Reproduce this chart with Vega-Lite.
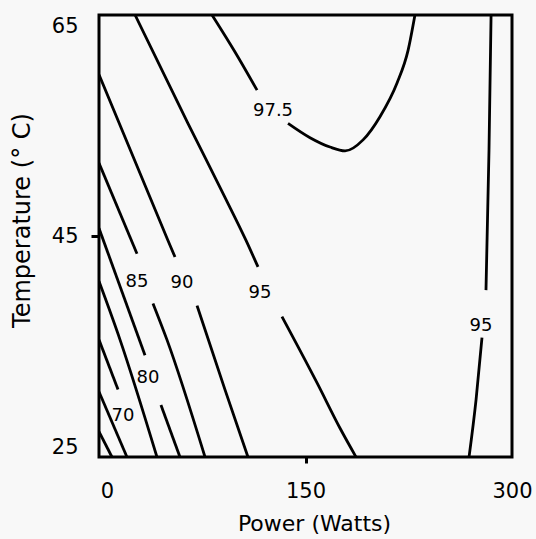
{
  "$schema": "https://vega.github.io/schema/vega-lite/v6.json",
  "width": 413,
  "height": 442,
  "autosize": {"type": "none"},
  "padding": {"left": 99, "top": 15, "right": 24, "bottom": 82},
  "background": "#f8f8f8",
  "config": {"view": {"stroke": "black", "strokeWidth": 3}, "font": "DejaVu Sans"},
  "datasets": {
    "lines": [
      {"seg": "95a", "i": 1, "x": 26.2, "y": 65},
      {"seg": "95a", "i": 2, "x": 64.6, "y": 55.2},
      {"seg": "95a", "i": 3, "x": 91.5, "y": 48.5},
      {"seg": "95a", "i": 4, "x": 106.8, "y": 44.6},
      {"seg": "95a", "i": 5, "x": 115.5, "y": 42.2},
      {"seg": "95b", "i": 1, "x": 132.9, "y": 37.7},
      {"seg": "95b", "i": 2, "x": 158.4, "y": 31.7},
      {"seg": "95b", "i": 3, "x": 175.1, "y": 27.6},
      {"seg": "95b", "i": 4, "x": 186.7, "y": 25},
      {"seg": "975a", "i": 1, "x": 82.1, "y": 65},
      {"seg": "975a", "i": 2, "x": 98.8, "y": 61.65},
      {"seg": "975a", "i": 3, "x": 114.8, "y": 58.2},
      {"seg": "975b", "i": 1, "x": 137.3, "y": 55.2},
      {"seg": "975b", "i": 2, "x": 153.3, "y": 53.9},
      {"seg": "975b", "i": 3, "x": 167.8, "y": 53.05},
      {"seg": "975b", "i": 4, "x": 178.7, "y": 52.7},
      {"seg": "975b", "i": 5, "x": 191.8, "y": 53.7},
      {"seg": "975b", "i": 6, "x": 204.1, "y": 55.8},
      {"seg": "975b", "i": 7, "x": 216.5, "y": 58.85},
      {"seg": "975b", "i": 8, "x": 224.5, "y": 61.8},
      {"seg": "975b", "i": 9, "x": 229.5, "y": 65},
      {"seg": "95ra", "i": 1, "x": 281.1, "y": 40.1},
      {"seg": "95ra", "i": 2, "x": 283.3, "y": 52.8},
      {"seg": "95ra", "i": 3, "x": 284.8, "y": 65},
      {"seg": "95rb", "i": 1, "x": 268.8, "y": 25},
      {"seg": "95rb", "i": 2, "x": 273.9, "y": 30.2},
      {"seg": "95rb", "i": 3, "x": 278.2, "y": 35.8},
      {"seg": "90a", "i": 1, "x": 0, "y": 59.6},
      {"seg": "90a", "i": 2, "x": 50.1, "y": 44.6},
      {"seg": "90a", "i": 3, "x": 55.2, "y": 43.1},
      {"seg": "90b", "i": 1, "x": 71.2, "y": 38.7},
      {"seg": "90b", "i": 2, "x": 91.5, "y": 31.1},
      {"seg": "90b", "i": 3, "x": 108.2, "y": 25},
      {"seg": "85a", "i": 1, "x": 0, "y": 51.6},
      {"seg": "85a", "i": 2, "x": 27.6, "y": 43.4},
      {"seg": "85b", "i": 1, "x": 39.2, "y": 38.9},
      {"seg": "85b", "i": 2, "x": 49.4, "y": 35.6},
      {"seg": "85b", "i": 3, "x": 77.0, "y": 25},
      {"seg": "80a", "i": 1, "x": 0, "y": 45.7},
      {"seg": "80a", "i": 2, "x": 33.4, "y": 34.2},
      {"seg": "80b", "i": 1, "x": 45.0, "y": 29.7},
      {"seg": "80b", "i": 2, "x": 58.8, "y": 25},
      {"seg": "75", "i": 1, "x": 0, "y": 40.9},
      {"seg": "75", "i": 2, "x": 15.3, "y": 35.6},
      {"seg": "75", "i": 3, "x": 42.1, "y": 25},
      {"seg": "70a", "i": 1, "x": 0, "y": 35.6},
      {"seg": "70a", "i": 2, "x": 13.8, "y": 31.1},
      {"seg": "65", "i": 1, "x": 0, "y": 30.9},
      {"seg": "65", "i": 2, "x": 20.3, "y": 25},
      {"seg": "60", "i": 1, "x": 0, "y": 27.3},
      {"seg": "60", "i": 2, "x": 9.4, "y": 25}
    ],
    "labels": [
      {"t": "97.5", "x": 126.4, "y": 56.3},
      {"t": "95", "x": 117.0, "y": 39.8},
      {"t": "95", "x": 277.5, "y": 36.85},
      {"t": "90", "x": 60.3, "y": 40.75},
      {"t": "85", "x": 27.6, "y": 40.8},
      {"t": "80", "x": 35.6, "y": 32.15},
      {"t": "70", "x": 17.4, "y": 28.7}
    ]
  },
  "layer": [
    {
      "data": {"name": "lines"},
      "mark": {"type": "line", "color": "black", "strokeWidth": 2.8, "interpolate": "monotone", "clip": true},
      "encoding": {
        "x": {
          "field": "x", "type": "quantitative",
          "scale": {"domain": [0, 300], "nice": false, "zero": false},
          "axis": {
            "title": "Power (Watts)", "values": [0, 150, 300], "format": "d",
            "domain": false, "grid": false, "labelFlush": false,
            "tickSize": 6, "tickWidth": 3, "tickColor": "black",
            "tickOpacity": {"condition": {"test": "datum.value == 150", "value": 1}, "value": 0},
            "labelOffset": {"condition": {"test": "datum.value == 0", "value": 8}, "value": 0},
            "labelFontSize": 21, "labelColor": "black", "labelPadding": 17,
            "titleFontSize": 22, "titleFontWeight": "normal", "titleColor": "black",
            "titlePadding": 12, "titleX": 215
          }
        },
        "y": {
          "field": "y", "type": "quantitative",
          "scale": {"domain": [25, 65], "nice": false, "zero": false},
          "axis": {
            "title": "Temperature (° C)", "values": [25, 45, 65], "format": "d",
            "domain": false, "grid": false, "labelFlush": true,
            "tickSize": 8, "tickWidth": 3, "tickColor": "black",
            "tickOpacity": {"condition": {"test": "datum.value == 45", "value": 1}, "value": 0},
            "labelFontSize": 21, "labelColor": "black", "labelPadding": 13,
            "titleFontSize": 24, "titleFontWeight": "normal", "titleColor": "black",
            "titlePadding": 17, "titleY": 205
          }
        },
        "detail": {"field": "seg"},
        "order": {"field": "i", "type": "quantitative"}
      }
    },
    {
      "data": {"name": "labels"},
      "mark": {"type": "text", "fontSize": 18, "color": "black", "align": "center", "baseline": "middle"},
      "encoding": {
        "x": {"field": "x", "type": "quantitative"},
        "y": {"field": "y", "type": "quantitative"},
        "text": {"field": "t", "type": "nominal"}
      }
    }
  ]
}
